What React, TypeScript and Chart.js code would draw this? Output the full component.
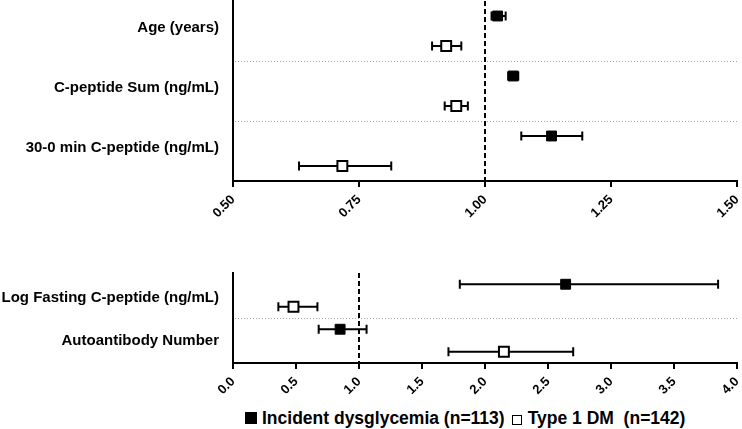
import React, { useEffect, useRef } from "react";
import { Chart, registerables } from "chart.js";

Chart.register(...registerables);

// ---------- Top panel data ----------
const topLabels = ["Age (years)", "C-peptide Sum (ng/mL)", "30-0 min C-peptide (ng/mL)"];
const topLabelPos = [0.9, 2.9, 4.9];
const topFilledY = [0.5, 2.5, 4.5];
const topOpenY = [1.5, 3.5, 5.5];
const topFilledOR = [1.025, 1.056, 1.132];
const topFilledLow = [1.013, 1.046, 1.072];
const topFilledHigh = [1.041, 1.066, 1.193];
const topOpenOR = [0.923, 0.943, 0.717];
const topOpenLow = [0.895, 0.92, 0.631];
const topOpenHigh = [0.953, 0.966, 0.814];
const topSeparators = [2, 4];
const topTicks = [0.5, 0.75, 1.0, 1.25, 1.5];

// ---------- Bottom panel data ----------
const bottomLabels = ["Log Fasting C-peptide (ng/mL)", "Autoantibody Number"];
const bottomLabelPos = [1.1, 3.0];
const bottomFilledY = [0.5, 2.5];
const bottomOpenY = [1.5, 3.5];
const bottomFilledOR = [2.64, 0.85];
const bottomFilledLow = [1.8, 0.68];
const bottomFilledHigh = [3.85, 1.06];
const bottomOpenOR = [0.48, 2.15];
const bottomOpenLow = [0.36, 1.71];
const bottomOpenHigh = [0.67, 2.7];
const bottomSeparators = [2];
const bottomTicks = [0, 0.5, 1.0, 1.5, 2.0, 2.5, 3.0, 3.5, 4.0];

const legendLabels = ["Incident dysglycemia (n=113)", "Type 1 DM  (n=142)"];

const FONT = "'Liberation Sans', Arial, Helvetica, sans-serif";

const forestPlugin = {
  id: "forest",
  beforeDatasetsDraw(chart: any, _args: any, opts: any) {
    const { ctx, chartArea, scales } = chart;
    const x = scales.x;
    const y = scales.y;
    ctx.save();
    // dotted separators
    ctx.strokeStyle = "#a0a0a0";
    ctx.lineWidth = 1;
    ctx.setLineDash([1, 2]);
    for (const s of opts.separators || []) {
      const py = Math.round(y.getPixelForValue(s)) + 0.5;
      ctx.beginPath();
      ctx.moveTo(chartArea.left + 2, py);
      ctx.lineTo(chartArea.right, py);
      ctx.stroke();
    }
    // reference dashed line
    ctx.strokeStyle = "#000";
    ctx.lineWidth = 2;
    ctx.setLineDash([5, 3]);
    const rx = x.getPixelForValue(opts.ref);
    ctx.beginPath();
    ctx.moveTo(rx, chartArea.top);
    ctx.lineTo(rx, chartArea.bottom);
    ctx.stroke();
    // error bars
    ctx.setLineDash([]);
    ctx.lineWidth = 2;
    chart.data.datasets.forEach((ds: any) => {
      ds.data.forEach((d: any) => {
        const x1 = x.getPixelForValue(d.lo);
        const x2 = x.getPixelForValue(d.hi);
        const py = y.getPixelForValue(d.y);
        ctx.beginPath();
        ctx.moveTo(x1, py);
        ctx.lineTo(x2, py);
        ctx.moveTo(x1, py - 4.5);
        ctx.lineTo(x1, py + 4.5);
        ctx.moveTo(x2, py - 4.5);
        ctx.lineTo(x2, py + 4.5);
        ctx.stroke();
      });
    });
    ctx.restore();
  },
};

function build(
  canvas: HTMLCanvasElement,
  p: {
    labels: string[];
    labelPos: number[];
    fy: number[];
    oy: number[];
    fOR: number[];
    fLo: number[];
    fHi: number[];
    oOR: number[];
    oLo: number[];
    oHi: number[];
    separators: number[];
    ticks: number[];
    xMin: number;
    xMax: number;
    yMax: number;
    decimals: number;
    padTop: number;
    xHeight: number;
  }
) {
  const filled = p.fOR.map((v, i) => ({ x: v, y: p.fy[i], lo: p.fLo[i], hi: p.fHi[i] }));
  const open = p.oOR.map((v, i) => ({ x: v, y: p.oy[i], lo: p.oLo[i], hi: p.oHi[i] }));
  return new Chart(canvas, {
    type: "scatter",
    data: {
      datasets: [
        {
          label: legendLabels[0],
          data: filled,
          pointStyle: "rect",
          pointRadius: 7,
          backgroundColor: "#000",
          borderColor: "#000",
          borderWidth: 1,
        },
        {
          label: legendLabels[1],
          data: open,
          pointStyle: "rect",
          pointRadius: 7,
          backgroundColor: "#fff",
          borderColor: "#000",
          borderWidth: 2,
        },
      ],
    },
    options: {
      responsive: false,
      animation: false,
      layout: { autoPadding: false, padding: { top: p.padTop, right: 5, left: 0, bottom: 0 } },
      plugins: {
        legend: { display: false },
        tooltip: { enabled: false },
        forest: { separators: p.separators, ref: 1 },
      } as any,
      scales: {
        x: {
          type: "linear",
          min: p.xMin,
          max: p.xMax,
          afterBuildTicks: (s: any) => {
            s.ticks = p.ticks.map((v) => ({ value: v }));
          },
          afterFit: (s: any) => {
            s.height = p.xHeight;
            s.paddingLeft = 0;
            s.paddingRight = 0;
            s.paddingTop = 0;
            s.paddingBottom = 0;
          },
          ticks: {
            autoSkip: false,
            minRotation: 45,
            maxRotation: 45,
            color: "#000",
            padding: 5,
            font: { family: FONT, weight: "bold", size: 13 },
            callback: (v: any) => Number(v).toFixed(p.decimals),
          },
          grid: {
            drawOnChartArea: false,
            drawTicks: true,
            tickLength: 6,
            color: "#000",
            lineWidth: 2,
          },
          border: { color: "#000", width: 2 },
        },
        y: {
          type: "linear",
          reverse: true,
          min: 0,
          max: p.yMax,
          afterBuildTicks: (s: any) => {
            s.ticks = p.labelPos.map((v) => ({ value: v }));
          },
          afterFit: (s: any) => {
            s.width = 233;
            s.paddingLeft = 0;
            s.paddingRight = 0;
            s.paddingTop = 0;
            s.paddingBottom = 0;
          },
          ticks: {
            autoSkip: false,
            color: "#000",
            padding: 14,
            font: { family: FONT, weight: "bold", size: 15 },
            callback: (_v: any, i: number) => p.labels[i],
          },
          grid: { display: false, drawTicks: false },
          border: { display: true, color: "#000", width: 2 },
        },
      },
    } as any,
    plugins: [forestPlugin as any],
  });
}

export default function App() {
  const topRef = useRef<HTMLCanvasElement>(null);
  const botRef = useRef<HTMLCanvasElement>(null);

  useEffect(() => {
    const c1 = build(topRef.current!, {
      labels: topLabels,
      labelPos: topLabelPos,
      fy: topFilledY,
      oy: topOpenY,
      fOR: topFilledOR,
      fLo: topFilledLow,
      fHi: topFilledHigh,
      oOR: topOpenOR,
      oLo: topOpenLow,
      oHi: topOpenHigh,
      separators: topSeparators,
      ticks: topTicks,
      xMin: 0.5,
      xMax: 1.5,
      yMax: 6,
      decimals: 2,
      padTop: 1,
      xHeight: 55,
    });
    const c2 = build(botRef.current!, {
      labels: bottomLabels,
      labelPos: bottomLabelPos,
      fy: bottomFilledY,
      oy: bottomOpenY,
      fOR: bottomFilledOR,
      fLo: bottomFilledLow,
      fHi: bottomFilledHigh,
      oOR: bottomOpenOR,
      oLo: bottomOpenLow,
      oHi: bottomOpenHigh,
      separators: bottomSeparators,
      ticks: bottomTicks,
      xMin: 0,
      xMax: 4,
      yMax: 4,
      decimals: 1,
      padTop: 33,
      xHeight: 42,
    });
    return () => {
      c1.destroy();
      c2.destroy();
    };
  }, []);

  return (
    <div
      style={{
        position: "fixed",
        left: 0,
        top: 0,
        width: 742,
        height: 429,
        background: "#fff",
        overflow: "hidden",
      }}
    >
      <canvas
        ref={topRef}
        width={742}
        height={236}
        style={{ position: "absolute", left: 0, top: 0, display: "block" }}
      />
      <canvas
        ref={botRef}
        width={742}
        height={165}
        style={{ position: "absolute", left: 0, top: 240, display: "block" }}
      />
      <div
        style={{
          position: "absolute",
          left: 245,
          top: 406,
          display: "flex",
          alignItems: "center",
          fontFamily: FONT,
          fontWeight: "bold",
          fontSize: 17.5,
          color: "#000",
          whiteSpace: "pre",
          lineHeight: "24px",
        }}
      >
        <span
          style={{ display: "inline-block", width: 12, height: 12, background: "#000", marginRight: 5 }}
        />
        <span>{legendLabels[0]}</span>
        <span
          style={{
            display: "inline-block",
            width: 8,
            height: 8,
            border: "1.5px solid #000",
            marginLeft: 7,
            marginRight: 6,
            marginTop: 3,
          }}
        />
        <span>{legendLabels[1]}</span>
      </div>
    </div>
  );
}
